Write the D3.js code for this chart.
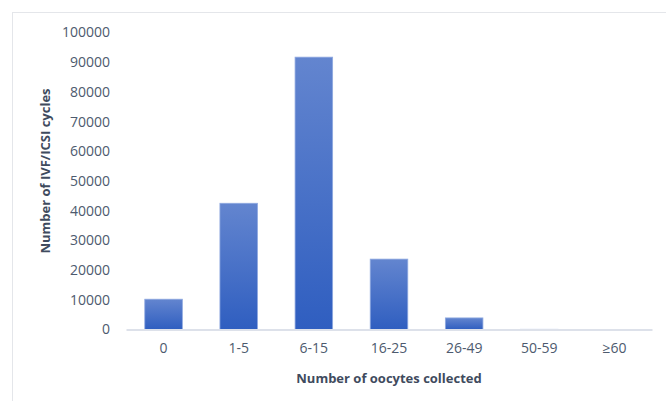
<!DOCTYPE html>
<html>
<head>
<meta charset="utf-8">
<script src="https://cdn.jsdelivr.net/npm/d3@7"></script>
<style>
  body { margin: 0; background: #fff; }
  svg { display: block; font-family: 'Open Sans', sans-serif; }
</style>
</head>
<body>
<div id="chart"></div>
<script>
const categories = ['0', '1-5', '6-15', '16-25', '26-49', '50-59', '≥60']
const cycles = [10200, 42500, 91700, 23700, 3900, 60, 20]
const yTicks = [0, 10000, 20000, 30000, 40000, 50000, 60000, 70000, 80000, 90000, 100000]

const W = 666
const H = 401
const plot = { left: 126, right: 652, top: 32.5, bottom: 329.5 }
const colors = {
  tick: '#4d5a6e',
  title: '#3f4b5e',
  axis: '#dde1ea',
  frame: '#e4e6ea',
  barTop: '#6385cf',
  barBottom: '#2f5ec0'
}

const svg = d3.select('#chart').append('svg')
  .attr('width', W)
  .attr('height', H)

// cadre gris clair
svg.append('rect')
  .attr('x', 12.5)
  .attr('y', 12.5)
  .attr('width', W)
  .attr('height', H)
  .attr('fill', 'none')
  .attr('stroke', colors.frame)

const defs = svg.append('defs')
const grad = defs.append('linearGradient')
  .attr('id', 'barGrad')
  .attr('x1', 0).attr('y1', 0).attr('x2', 0).attr('y2', 1)
grad.append('stop').attr('offset', '0%').attr('stop-color', colors.barTop)
grad.append('stop').attr('offset', '100%').attr('stop-color', colors.barBottom)

const x = d3.scaleBand()
  .domain(categories)
  .range([plot.left, plot.right])
  .paddingInner(0.5)
  .paddingOuter(0.25)

const y = d3.scaleLinear()
  .domain([0, 100000])
  .range([plot.bottom, plot.top])

// axe Y (texte seulement)
svg.append('g')
  .attr('transform', `translate(${plot.left}, 0)`)
  .call(d3.axisLeft(y).tickValues(yTicks).tickFormat(d3.format('d')).tickSize(0).tickPadding(16))
  .call((g) => {
    g.select('.domain').remove()
    g.selectAll('.tick text')
      .style('fill', colors.tick)
      .style('font-size', '14px')
      .style('font-family', "'Open Sans', sans-serif")
  })

// barres
svg.append('g')
  .selectAll('rect')
  .data(categories)
  .enter()
  .append('rect')
  .attr('x', (d) => x(d))
  .attr('y', (d, i) => y(cycles[i]))
  .attr('width', x.bandwidth())
  .attr('height', (d, i) => y(0) - y(cycles[i]))
  .attr('fill', 'url(#barGrad)')
  .attr('stroke', '#8fa9e0')
  .attr('stroke-width', 0.8)

// axe X
svg.append('g')
  .attr('transform', `translate(0, ${plot.bottom})`)
  .call(d3.axisBottom(x).tickSize(0).tickPadding(14))
  .call((g) => {
    g.select('.domain')
      .attr('stroke', colors.axis)
      .attr('stroke-width', 2)
    g.selectAll('.tick text')
      .style('fill', colors.tick)
      .style('font-size', '14px')
      .style('font-family', "'Open Sans', sans-serif")
  })

// titres des axes
svg.append('text')
  .attr('x', 389)
  .attr('y', 383)
  .attr('text-anchor', 'middle')
  .text('Number of oocytes collected')
  .style('font-size', '13px')
  .style('font-weight', '700')
  .style('fill', colors.title)

svg.append('text')
  .attr('transform', 'translate(50, 171) rotate(-90)')
  .attr('text-anchor', 'middle')
  .text('Number of IVF/ICSI cycles')
  .style('font-size', '13px')
  .style('font-weight', '700')
  .style('fill', colors.title)
</script>
</body>
</html>
